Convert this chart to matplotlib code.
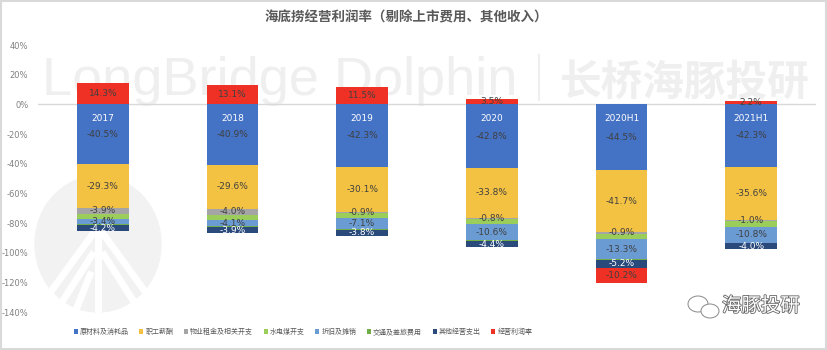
import numpy as np
import matplotlib
matplotlib.use('Agg')
import matplotlib.pyplot as plt
from matplotlib.patches import Ellipse, Rectangle
from matplotlib.lines import Line2D
import matplotlib.patheffects as pe

plt.rcParams['font.family'] = ['Noto Sans CJK SC', 'DejaVu Sans']

# data (% of revenue)
years = ['2017', '2018', '2019', '2020', '2020H1', '2021H1']
raw_mat = [-40.5, -40.9, -42.3, -42.8, -44.5, -42.3]
staff = [-29.3, -29.6, -30.1, -33.8, -41.7, -35.6]
rent = [-3.9, -4.0, -0.9, -0.8, -0.9, -1.0]
utility = [-3.5, -3.5, -3.4, -3.6, -4.0, -3.5]
deprec = [-3.4, -4.1, -7.1, -10.6, -13.3, -10.8]
travel = [-0.9, -0.9, -0.9, -0.5, -0.6, -0.6]
other = [-4.2, -3.9, -3.8, -4.4, -5.2, -4.0]
margin = [14.3, 13.1, 11.5, 3.5, -10.2, 2.2]

series = [
    ('原材料及消耗品', raw_mat, '#4472C4', True),
    ('职工薪酬', staff, '#F4C242', True),
    ('物业租金及相关开支', rent, '#A5A5A5', True),
    ('水电煤开支', utility, '#9BCD5B', False),
    ('折旧及摊销', deprec, '#6A9BD3', True),
    ('交通及差旅费用', travel, '#70AD47', False),
    ('其他经营支出', other, '#2A4A7C', True),
    ('经营利润率', margin, '#EE3124', True),
]

W, H = 828, 350
fig = plt.figure(figsize=(W / 100, H / 100), dpi=100)
ax = fig.add_axes([38 / W, 1 - 312 / H, 778 / W, 267 / H])
ax.set_facecolor('none')

# watermarks (behind the chart)
wm = '#efefef'
fig.text(42 / W, 1 - 95 / H, 'LongBridge Dolphin', fontsize=39, color=wm,
         family='Liberation Sans', ha='left', va='baseline', zorder=-1)
fig.text(560 / W, 1 - 95 / H, '长桥海豚投研', fontsize=30, color=wm, fontweight='bold',
         ha='left', va='baseline', zorder=-1)
fig.add_artist(Line2D([539 / W, 539 / W], [1 - 55 / H, 1 - 100 / H],
                      transform=fig.transFigure, color=wm, lw=1.5, zorder=-1))
fig.add_artist(Ellipse((98 / W, 1 - 244 / H), 126 / W, 136 / H,
                       transform=fig.transFigure, color='#f2f2f2', zorder=-2))
for p, q in [((98, 205), (98, 312)), ((92, 235), (52, 290)), ((92, 255), (62, 302)),
             ((104, 235), (144, 290)), ((104, 255), (134, 302)), ((90, 275), (76, 310))]:
    fig.add_artist(Line2D([p[0] / W, q[0] / W], [1 - p[1] / H, 1 - q[1] / H],
                          transform=fig.transFigure, color='white', lw=5, zorder=-1))

x = np.arange(len(years))
bw = 0.4
neg_base = np.zeros(len(years))
handles = []
for name, vals, col, show in series:
    vals = np.array(vals)
    bottoms = np.where(vals < 0, neg_base, 0)
    b = ax.bar(x, vals, bw, bottom=bottoms, color=col, label=name, zorder=2)
    handles.append(b)
    for i, v in enumerate(vals):
        if show:
            tc = 'white' if col == '#2A4A7C' else '#404040'
            ax.text(x[i], bottoms[i] + v / 2, f'{v:.1f}%', ha='center', va='center',
                    fontsize=6.5, color=tc, family='DejaVu Sans', zorder=3)
    neg_base = neg_base + np.where(vals < 0, vals, 0)

for i, yr in enumerate(years):
    ax.text(x[i], -9.5, yr, ha='center', va='center', fontsize=6.5,
            color='white', family='DejaVu Sans', zorder=3)

ax.axhline(0, color='#d9d9d9', lw=1, zorder=1)
ax.set_xlim(-0.5, len(years) - 0.5)
ax.set_ylim(-140, 40)
ax.set_yticks(np.arange(-140, 41, 20))
ax.set_yticklabels([f'{t}%' for t in np.arange(-140, 41, 20)], fontsize=6,
                   color='#808080', family='DejaVu Sans')
ax.set_xticks([])
ax.tick_params(axis='y', length=0, pad=7)
for s in ax.spines.values():
    s.set_visible(False)

fig.text(406 / W, 1 - 17 / H, '海底捞经营利润率（剔除上市费用、其他收入）', ha='center',
         va='center', fontsize=9.7, fontweight='bold', color='#595959')

fig.legend(handles=handles, loc='center', bbox_to_anchor=(303 / W, 1 - 332 / H),
           ncol=8, frameon=False, fontsize=5, handlelength=0.6, handleheight=0.6,
           handletextpad=0.3, columnspacing=1.5, labelcolor='#595959')

# wechat watermark
fig.text(722 / W, 1 - 306 / H, '海豚投研', fontsize=14, color='white', ha='left',
         va='center', path_effects=[pe.withStroke(linewidth=1.2, foreground='#666666')])
fig.add_artist(Ellipse((698 / W, 1 - 304 / H), 20 / W, 16 / H, transform=fig.transFigure,
                       fill=False, ec='#888888', lw=0.7))
fig.add_artist(Ellipse((710 / W, 1 - 311 / H), 18 / W, 14 / H, transform=fig.transFigure,
                       fc='white', ec='#888888', lw=0.7))

fig.add_artist(Rectangle((0.001, 0.002), 0.997, 0.995, transform=fig.transFigure,
                         fill=False, ec='#d9d9d9', lw=1.5))

fig.savefig('out.png', dpi=100)
